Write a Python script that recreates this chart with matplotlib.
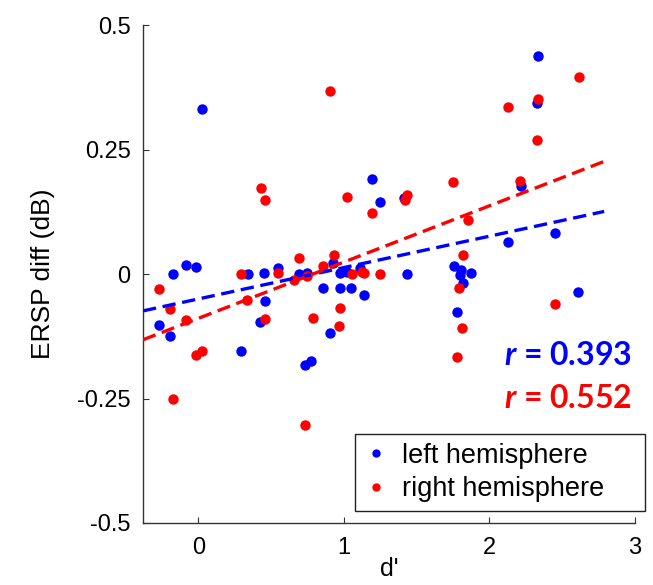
import numpy as np
import matplotlib
matplotlib.use("Agg")
import matplotlib.pyplot as plt

# ---- data ----
left_x = [0.023, 2.335, 2.328, 2.216, 1.193, 1.248, 1.415, 2.132, 2.450,
          -0.087, -0.014, -0.174, 0.343, 0.451, 0.547, 0.692, 0.456, 0.422,
          -0.272, -0.196, 0.291, 0.731, 0.774, 0.927, 0.745, 0.973, 1.019,
          1.111, 1.438, 0.859, 0.973, 1.049, 1.138, 0.905, 1.757, 1.809,
          1.797, 1.820, 1.779, 1.878, 2.610]
left_y = [0.331, 0.438, 0.344, 0.176, 0.191, 0.144, 0.152, 0.065, 0.083,
          0.019, 0.014, 0.000, 0.000, 0.002, 0.013, 0.000, -0.054, -0.096,
          -0.102, -0.124, -0.155, -0.183, -0.175, 0.022, 0.002, 0.002, 0.005,
          0.012, 0.000, -0.028, -0.028, -0.028, -0.042, -0.118, 0.017, 0.009,
          -0.001, -0.018, -0.076, 0.002, -0.037]

right_x = [0.429, 0.456, 0.907, 1.019, 1.435, 1.422, 1.191, 1.754, 1.854,
           1.820, 2.615, 2.132, 2.335, 2.326, 2.212, 0.692, 0.930, -0.272,
           0.291, 0.547, 0.655, 0.745, 0.334, -0.196, -0.087, 0.456, -0.014,
           0.027, -0.174, 0.731, 0.790, 0.859, 0.973, 0.968, 1.054, 1.122,
           1.140, 1.248, 1.791, 1.813, 1.779, 2.450]
right_y = [0.172, 0.148, 0.368, 0.154, 0.159, 0.149, 0.122, 0.185, 0.109,
           0.039, 0.396, 0.336, 0.352, 0.269, 0.187, 0.033, 0.039, -0.030,
           0.000, 0.002, -0.011, -0.003, -0.052, -0.070, -0.092, -0.090, -0.162,
           -0.155, -0.251, -0.304, -0.088, 0.017, -0.068, -0.105, 0.000, 0.005,
           0.002, 0.000, -0.028, -0.109, -0.166, -0.060]

# regression lines (slope, intercept) and x extent
left_fit = [0.063, -0.050]
right_fit = [0.113, -0.089]
fit_range = [-0.38, 2.79]

left_r = "0.393"
right_r = "0.552"

x_ticks = [0, 1, 2, 3]
y_ticks = [-0.5, -0.25, 0, 0.25, 0.5]
y_tick_labels = ["-0.5", "-0.25", "0", "0.25", "0.5"]

BLUE = "#0000ff"
RED = "#ff0000"

plt.rcParams['font.family'] = ['Liberation Sans', 'DejaVu Sans']
plt.rcParams['mathtext.fontset'] = 'custom'
plt.rcParams['mathtext.bfit'] = 'Lato:italic:bold'
plt.rcParams['mathtext.it'] = 'Lato:italic:bold'

fig = plt.figure(figsize=(6.53, 5.85), dpi=100)
ax = fig.add_axes([0.219, 0.106, 0.753, 0.851])

ax.plot(left_x, left_y, 'o', color=BLUE, markersize=7.5, markeredgewidth=0,
        label='left hemisphere', zorder=3)
ax.plot(right_x, right_y, 'o', color=RED, markersize=7.5, markeredgewidth=0,
        label='right hemisphere', zorder=3)

xf = np.array(fit_range)
ax.plot(xf, np.polyval(left_fit, xf), '--', color=BLUE, linewidth=2.4,
        dashes=(4, 2), zorder=4)
ax.plot(xf, np.polyval(right_fit, xf), '--', color=RED, linewidth=2.4,
        dashes=(4, 2), zorder=4)

ax.set_xlim(-0.38, 3)
ax.set_ylim(-0.5, 0.5)
ax.set_xticks(x_ticks)
ax.set_yticks(y_ticks)
ax.set_yticklabels(y_tick_labels)

for s in ['top', 'right']:
    ax.spines[s].set_visible(False)
for s in ['left', 'bottom']:
    ax.spines[s].set_color('#333333')
    ax.spines[s].set_linewidth(1.0)
ax.tick_params(direction='in', length=4, width=0.8, color='#333333',
               labelsize=17, pad=9)
ax.tick_params(axis='x', pad=10)

ax.set_xlabel("d'", fontsize=18, labelpad=-1)
ax.set_ylabel("ERSP diff (dB)", fontsize=19, labelpad=16)

rfont = dict(fontsize=23, fontweight='bold', ha='right', va='center',
             family=['Lato', 'DejaVu Sans'])
ax.text(2.98, -0.163, r"$\mathit{r}$ = " + left_r, color=BLUE,
        **rfont)
ax.text(2.98, -0.25, r"$\mathit{r}$ = " + right_r, color=RED,
        **rfont)

leg = ax.legend(loc='upper left', bbox_to_anchor=(0.431, 0.179, 0.59, 0.0),
                mode='expand', fontsize=19.5, frameon=True, fancybox=False,
                edgecolor='#222222', framealpha=1, handlelength=0.9,
                handletextpad=0.5, borderpad=0.32, labelspacing=0.28,
                borderaxespad=0, markerscale=0.8)
leg.get_frame().set_linewidth(1.0)

fig.savefig("out.png", dpi=100)
